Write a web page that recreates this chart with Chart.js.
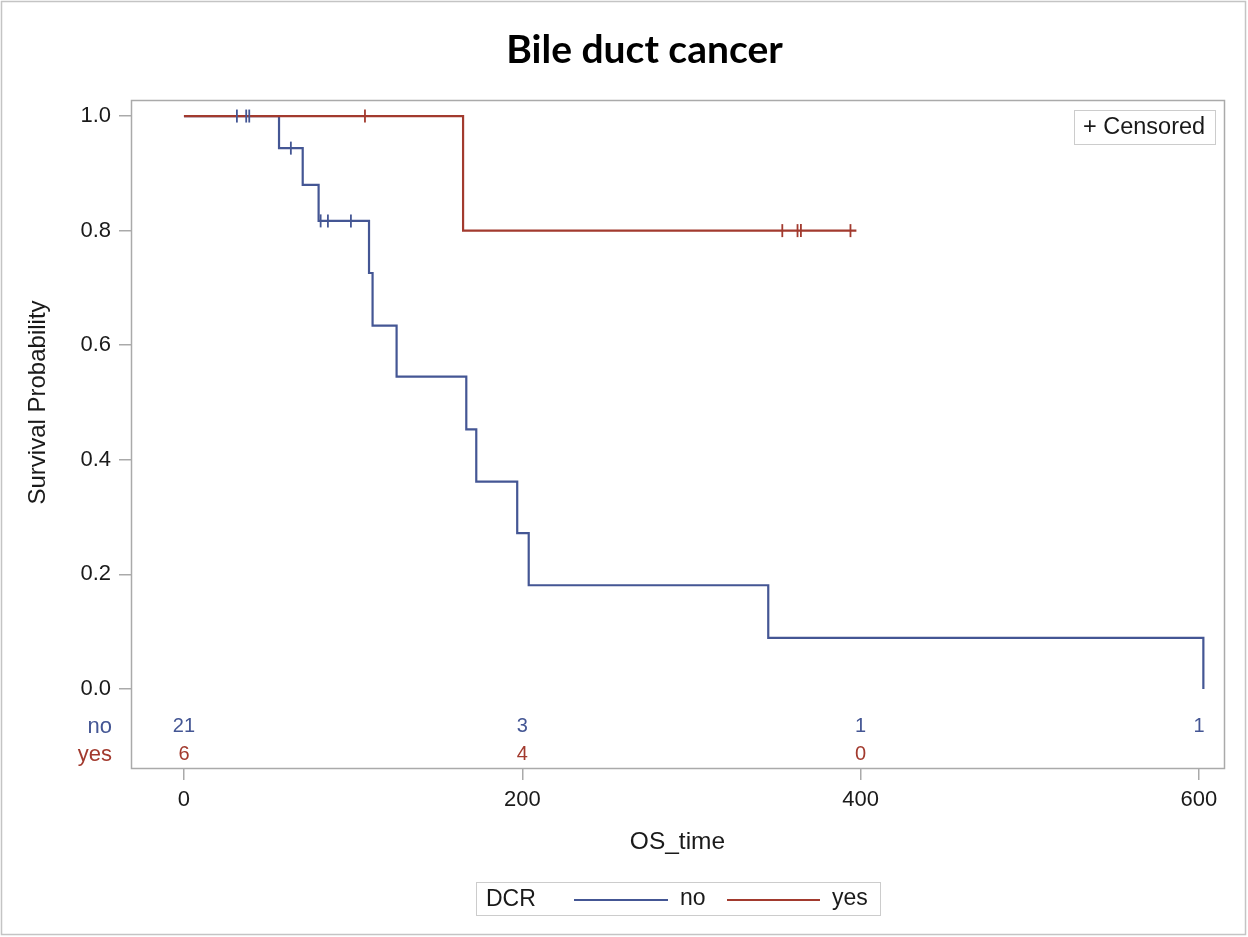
<!DOCTYPE html>
<html>
<head>
<meta charset="utf-8">
<title>Bile duct cancer</title>
<script src="https://cdn.jsdelivr.net/npm/chart.js@4.4.1/dist/chart.umd.min.js"></script>
<style>
  html, body { margin: 0; padding: 0; background: #fff; }
  #wrap { width: 1248px; height: 937px; position: relative; }
</style>
</head>
<body>
<div id="wrap"><canvas id="km" width="1248" height="937"></canvas></div>
<script>
// Kaplan-Meier estimates (OS_time, survival)
const noTimes  = [0, 56.2, 70.2, 79.6, 109.4, 111.5, 125.7, 166.9, 172.8, 197.0, 203.8, 345.4, 602.6];
const noSurv   = [1, 0.944, 0.880, 0.817, 0.726, 0.634, 0.545, 0.453, 0.362, 0.272, 0.181, 0.089, 0];
const noCensT  = [31.3, 36.8, 38.6, 63.2, 80.8, 85.1, 98.7];
const noCensS  = [1, 1, 1, 0.944, 0.817, 0.817, 0.817];

const yesTimes = [0, 165.0, 397.5];
const yesSurv  = [1, 0.8, 0.8];
const yesCensT = [107.0, 353.7, 362.7, 364.7, 394.0];
const yesCensS = [1, 0.8, 0.8, 0.8, 0.8];

// number at risk table
const riskTimes = [0, 200, 400, 600];
const riskNo    = [21, 3, 1, 1];
const riskYes   = [6, 4, 0];

const xTicks = [0, 200, 400, 600];
const yTicks = [0, 0.2, 0.4, 0.6, 0.8, 1.0];

const groups = ['no', 'yes'];
const BLUE = '#445694';
const RED  = '#A23A2E';
const FONT = '"Liberation Sans", Arial, sans-serif';

const pts = (xs, ys) => xs.map((x, i) => ({ x, y: ys[i] }));

// frame, titles, at-risk rows, legends
const decor = {
  id: 'decor',
  afterDraw(chart) {
    const { ctx, chartArea: a, scales: { x, y } } = chart;
    ctx.save();

    // outer border
    ctx.strokeStyle = '#c4c4c4';
    ctx.lineWidth = 1.5;
    ctx.strokeRect(1.5, 1.5, 1244, 933);

    // plot frame
    ctx.strokeStyle = '#aaaaaa';
    ctx.lineWidth = 1.5;
    ctx.strokeRect(a.left + 0.5, a.top + 0.5, a.right - a.left, a.bottom - a.top);

    // title
    ctx.fillStyle = '#000';
    ctx.font = 'bold 39px Lato, "Open Sans", sans-serif';
    ctx.textAlign = 'center';
    ctx.textBaseline = 'alphabetic';
    ctx.fillText('Bile duct cancer', 644.5, 63);

    // y title, centred on the 0..1 range
    const yc = (y.getPixelForValue(0) + y.getPixelForValue(1)) / 2;
    ctx.save();
    ctx.translate(45, yc);
    ctx.rotate(-Math.PI / 2);
    ctx.font = '24px ' + FONT;
    ctx.fillStyle = '#1a1a1a';
    ctx.textAlign = 'center';
    ctx.textBaseline = 'alphabetic';
    ctx.fillText('Survival Probability', 0, 0);
    ctx.restore();

    // at-risk rows inside the plot
    const rows = [riskNo, riskYes];
    const cols = [BLUE, RED];
    const rowY = [y.getPixelForValue(-0.066), y.getPixelForValue(-0.115)];
    ctx.textBaseline = 'middle';
    rows.forEach((vals, r) => {
      ctx.fillStyle = cols[r];
      ctx.textAlign = 'center';
      ctx.font = '20px ' + FONT;
      vals.forEach((v, i) => ctx.fillText(String(v), x.getPixelForValue(riskTimes[i]), rowY[r]));
      ctx.textAlign = 'right';
      ctx.font = '22px ' + FONT;
      ctx.fillText(groups[r], a.left - 19, rowY[r]);
    });

    // censored box
    ctx.strokeStyle = '#cccccc';
    ctx.lineWidth = 1;
    ctx.strokeRect(1074.5, 110.5, 141, 34);
    ctx.fillStyle = '#1a1a1a';
    ctx.font = '23.5px ' + FONT;
    ctx.textAlign = 'left';
    ctx.fillText('+ Censored', 1083, 128);

    // group legend
    ctx.strokeStyle = '#cccccc';
    ctx.strokeRect(476.5, 882.5, 404, 33);
    ctx.fillStyle = '#1a1a1a';
    ctx.font = '23px ' + FONT;
    ctx.fillText('DCR', 486, 900);
    const items = [[574, 668, 680], [727, 820, 832]];
    items.forEach(([x0, x1, tx], i) => {
      ctx.strokeStyle = cols[i];
      ctx.lineWidth = 2;
      ctx.beginPath();
      ctx.moveTo(x0, 900);
      ctx.lineTo(x1, 900);
      ctx.stroke();
      ctx.fillStyle = '#1a1a1a';
      ctx.fillText(groups[i], tx, 899);
    });

    ctx.restore();
  }
};

const censorStyle = (color) => ({
  type: 'scatter',
  showLine: false,
  pointStyle: 'line',
  pointRotation: 90,
  pointRadius: 6.5,
  pointBorderWidth: 1.8,
  borderColor: color,
  backgroundColor: color,
});

new Chart(document.getElementById('km'), {
  type: 'line',
  data: {
    datasets: [
      { label: 'no censored', data: pts(noCensT, noCensS), order: 0, ...censorStyle(BLUE) },
      { label: 'yes censored', data: pts(yesCensT, yesCensS), order: 1, ...censorStyle(RED) },
      { label: 'yes', data: pts(yesTimes, yesSurv), order: 2, stepped: true,
        borderColor: RED, borderWidth: 2.2, pointRadius: 0, fill: false },
      { label: 'no', data: pts(noTimes, noSurv), order: 3, stepped: true,
        borderColor: BLUE, borderWidth: 2.2, pointRadius: 0, fill: false },
    ],
  },
  options: {
    responsive: false,
    animation: false,
    events: [],
    layout: { padding: { top: 100, right: 24, left: 0, bottom: 0 } },
    plugins: { legend: { display: false }, tooltip: { enabled: false }, title: { display: false } },
    scales: {
      x: {
        type: 'linear', min: -31.3, max: 614.8,
        afterFit: (s) => { s.height = 169; },
        afterBuildTicks: (s) => { s.ticks = xTicks.map(v => ({ value: v })); },
        grid: { drawOnChartArea: false, drawTicks: true, tickLength: 12, color: '#aaaaaa', lineWidth: 1.5 },
        border: { display: false },
        ticks: { color: '#1a1a1a', font: { family: FONT, size: 22 }, padding: 7 },
        title: { display: true, text: 'OS_time', color: '#1a1a1a', font: { family: FONT, size: 24.5 },
                 padding: { top: 0, bottom: 80 } },
      },
      y: {
        type: 'linear', min: -0.138, max: 1.028,
        afterFit: (s) => { s.width = 131; },
        afterBuildTicks: (s) => { s.ticks = yTicks.map(v => ({ value: v })); },
        grid: { drawOnChartArea: false, drawTicks: true, tickLength: 12, color: '#aaaaaa', lineWidth: 1.5 },
        border: { display: false },
        ticks: { color: '#1a1a1a', font: { family: FONT, size: 22 }, padding: 8,
                 callback: (v) => v.toFixed(1) },
      },
    },
  },
  plugins: [decor],
});
</script>
</body>
</html>
